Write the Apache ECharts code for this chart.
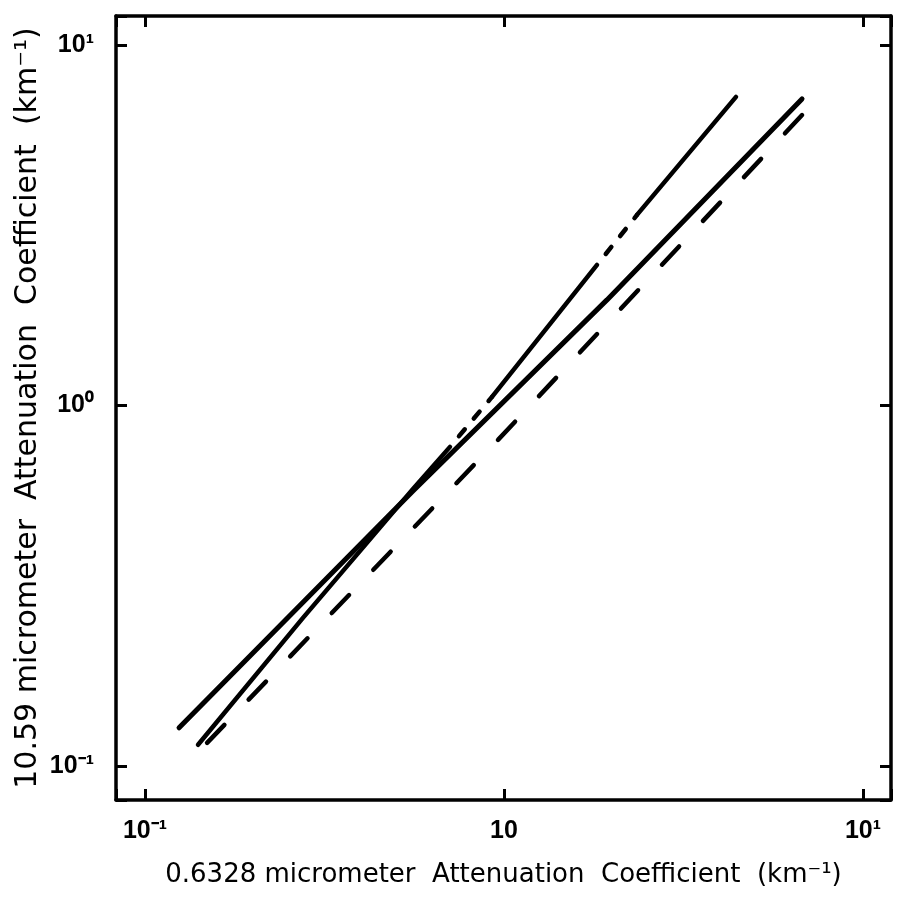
<!DOCTYPE html>
<html><head><meta charset="utf-8">
<script src="https://cdn.jsdelivr.net/npm/echarts@6/dist/echarts.min.js"></script>
<style>html,body{margin:0;padding:0;background:#fff}#c{width:900px;height:901px}</style>
</head><body><div id="c"></div>
<script>
// ---- data ----
const xAxisRange = [0.08302, 11.97];
const yAxisRange = [0.0804, 12.03];
const xTickLabels = {'-1': '10⁻¹', '0': '10', '1': '10¹'};
const yTickLabels = {'-1': '10⁻¹', '0': '10⁰', '1': '10¹'};
const xTitle = '0.6328 micrometer  Attenuation  Coefficient  (km⁻¹)';
const yTitle = '10.59 micrometer  Attenuation  Coefficient  (km⁻¹)';

// solid line, slope ~1
const lineAX = [0.1244, 0.5578, 1.936, 6.763];
const lineAY = [0.1275, 0.5791, 1.962, 7.084];

// steeper line (solid with two short-dashed stretches)
const lineB1X = [0.1405, 0.2754, 0.5578, 0.7072];
const lineB1Y = [0.1144, 0.2573, 0.5868, 0.7672];
const lineB2X = [0.7072, 0.926];
const lineB2Y = [0.7672, 1.056];
const lineB3X = [0.926, 1.816];
const lineB3Y = [1.056, 2.453];
const lineB4X = [1.816, 2.347];
const lineB4Y = [2.453, 3.376];
const lineB5X = [2.347, 4.429];
const lineB5Y = [3.376, 7.175];

// dashed line
const lineCX = [0.1489, 0.9623, 6.936];
const lineCY = [0.1158, 0.8021, 6.561];

// ---- build ----
const zip = (xs, ys) => xs.map((x, i) => [x, ys[i]]);
const decade = v => {
  const l = Math.log10(v), r = Math.round(l);
  return Math.abs(l - r) < 1e-6 ? String(r) : null;
};
const labelFont = {fontFamily: 'Liberation Sans', fontSize: 25, fontWeight: 'bold', color: '#000'};
const titleFont = {fontFamily: 'DejaVu Sans', fontSize: 26, color: '#000'};
const axisLine = {show: true, lineStyle: {color: '#000', width: 3.5}};
const axisTick = {show: true, inside: true, length: 11, lineStyle: {color: '#000', width: 3}};

function xAx(pos, showLabel) {
  return {
    type: 'log', logBase: 10, min: xAxisRange[0], max: xAxisRange[1], position: pos,
    axisLine, axisTick, splitLine: {show: false}, minorTick: {show: false},
    axisLabel: Object.assign({show: showLabel, margin: 19,
      formatter: v => { const d = decade(v); return d === null ? '' : xTickLabels[d]; }}, labelFont),
    name: showLabel ? xTitle : '', nameLocation: 'middle', nameGap: 62, nameTextStyle: titleFont
  };
}
function yAx(pos, showLabel) {
  return {
    type: 'log', logBase: 10, min: yAxisRange[0], max: yAxisRange[1], position: pos,
    axisLine, axisTick, splitLine: {show: false}, minorTick: {show: false},
    axisLabel: Object.assign({show: showLabel, margin: 22,
      formatter: v => { const d = decade(v); return d === null ? '' : yTickLabels[d]; }}, labelFont),
    name: showLabel ? yTitle : '', nameLocation: 'middle', nameGap: 73, nameMoveOverlap: false,
    nameTextStyle: Object.assign({}, titleFont, {fontSize: 30})
  };
}
const solid = w => ({color: '#000', width: w, cap: 'round', join: 'round'});
function ser(data, style) {
  return {type: 'line', data, symbol: 'none', lineStyle: style, silent: true, z: 3};
}
const shortDash = Object.assign(solid(4.5), {type: [9, 14], dashOffset: 9});

const option = {
  animation: false,
  backgroundColor: '#fff',
  grid: {left: 116, right: 9, top: 16, bottom: 101},
  xAxis: [xAx('bottom', true), xAx('top', false)],
  yAxis: [yAx('left', true), yAx('right', false)],
  series: [
    ser(zip(lineAX, lineAY), solid(5)),
    ser(zip(lineB1X, lineB1Y), solid(4.5)),
    ser(zip(lineB2X, lineB2Y), shortDash),
    ser(zip(lineB3X, lineB3Y), solid(4.5)),
    ser(zip(lineB4X, lineB4Y), shortDash),
    ser(zip(lineB5X, lineB5Y), solid(4.5)),
    ser(zip(lineCX, lineCY), Object.assign(solid(4.5), {type: [25, 35]}))
  ]
};
const chart = echarts.init(document.getElementById('c'), null, {renderer: 'canvas'});
chart.setOption(option);
</script></body></html>
